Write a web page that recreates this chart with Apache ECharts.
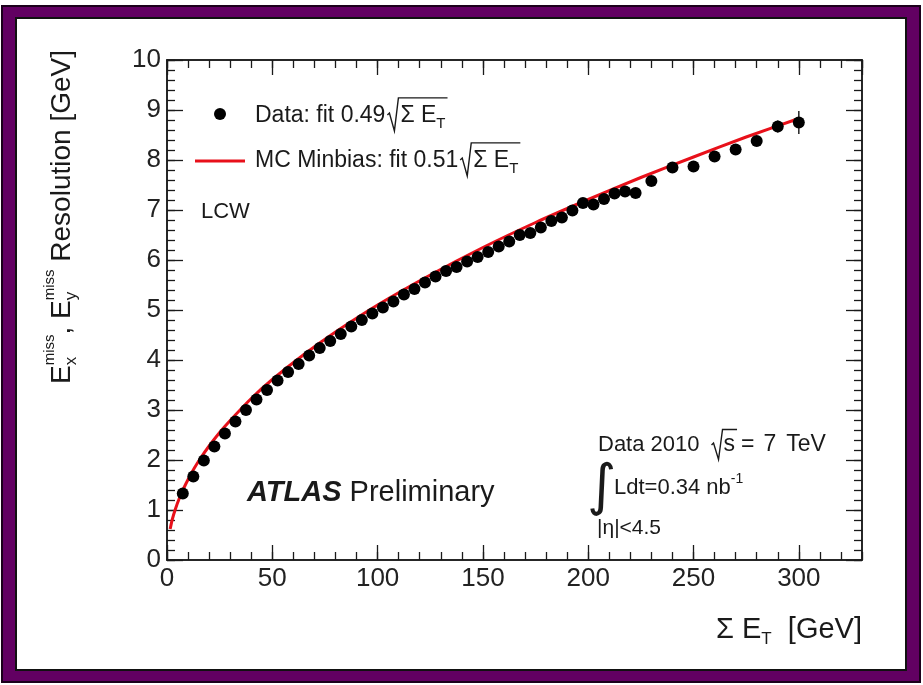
<!DOCTYPE html>
<html>
<head>
<meta charset="utf-8">
<title>MET resolution vs sum ET</title>
<script src="https://cdn.jsdelivr.net/npm/echarts@6/dist/echarts.min.js"></script>
<style>
  html, body { margin: 0; padding: 0; background: #fff; }
  #frame { position: absolute; left: 1px; top: 5px; width: 916px; height: 674px; background: #620062; border: 2px solid #1b001b; }
  #inner { position: absolute; left: 12px; top: 10px; right: 12px; bottom: 10px; background: #fff; border: 2px solid #111; }
  #chart { position: absolute; left: 0; top: 0; width: 923px; height: 685px; }
</style>
</head>
<body>
<div id="frame"><div id="inner"></div></div>
<div id="chart"></div>
<script>
var FONT = '"Liberation Sans", Arial, Helvetica, sans-serif';
var INK = '#1a1a1a';
var RED = '#e8101a';

// data: sum ET bin centres [GeV] and resolution [GeV]
var dataX = [7.5, 12.5, 17.5, 22.5, 27.5, 32.5, 37.5, 42.5, 47.5, 52.5, 57.5, 62.5, 67.5, 72.5, 77.5,
             82.5, 87.5, 92.5, 97.5, 102.5, 107.5, 112.5, 117.5, 122.5, 127.5, 132.5, 137.5, 142.5,
             147.5, 152.5, 157.5, 162.5, 167.5, 172.5, 177.5, 182.5, 187.5, 192.5, 197.5, 202.5,
             207.5, 212.5, 217.5, 222.5, 230, 240, 250, 260, 270, 280, 290, 300];
var dataY = [1.33, 1.67, 1.99, 2.27, 2.53, 2.77, 3.00, 3.21, 3.40, 3.59, 3.76, 3.92, 4.09, 4.24, 4.38,
             4.52, 4.67, 4.80, 4.93, 5.05, 5.17, 5.31, 5.42, 5.55, 5.67, 5.78, 5.86, 5.97,
             6.06, 6.16, 6.27, 6.37, 6.50, 6.54, 6.65, 6.78, 6.85, 6.99, 7.14, 7.11,
             7.22, 7.33, 7.37, 7.34, 7.58, 7.85, 7.87, 8.07, 8.21, 8.38, 8.67, 8.75];
var dataErr = [0.01, 0.01, 0.01, 0.01, 0.01, 0.01, 0.01, 0.01, 0.01, 0.01, 0.01, 0.01, 0.01, 0.01, 0.01,
               0.01, 0.01, 0.01, 0.01, 0.01, 0.01, 0.01, 0.01, 0.01, 0.01, 0.01, 0.01, 0.01,
               0.01, 0.01, 0.01, 0.02, 0.02, 0.02, 0.02, 0.02, 0.02, 0.02, 0.03, 0.03,
               0.03, 0.03, 0.04, 0.04, 0.04, 0.05, 0.06, 0.07, 0.08, 0.09, 0.12, 0.23];

// MC minbias fit curve
var mcX = [1.5, 2.5, 4, 6, 8, 10, 13, 16, 20, 25, 30, 40, 50, 65, 80, 100, 125, 150, 175, 200, 225, 250, 275, 300];
var mcY = [0.62, 0.81, 1.02, 1.25, 1.44, 1.61, 1.84, 2.04, 2.28, 2.55, 2.79, 3.23, 3.61, 4.11, 4.56,
           5.10, 5.70, 6.25, 6.75, 7.21, 7.65, 8.06, 8.46, 8.83];

// axis ranges and tick steps
var xRange = [0, 330], xMajor = 50, xMinor = 10;
var yRange = [0, 10], yMajor = 1, yMinor = 0.2;

var measureCtx = document.createElement('canvas').getContext('2d');
function textWidth(t, size, weight, style) {
    measureCtx.font = (style || 'normal') + ' ' + (weight || 'normal') + ' ' + size + 'px ' + FONT;
    return measureCtx.measureText(t).width;
}

// lays text pieces left to right, stacked pieces (sup over sub) share one x
function textRun(parts, x0, y0) {
    var els = [], x = x0, marks = {};
    parts.forEach(function (p) {
        if (p.mark) { marks[p.mark] = x; return; }
        if (p.gap) { x += p.gap; return; }
        var group = p.stack || [p], w = 0;
        group.forEach(function (q) {
            els.push({
                type: 'text', x: x, y: y0 + (q.dy || 0),
                style: {
                    text: q.t, fontSize: q.size, fontFamily: q.family || FONT,
                    fontWeight: q.weight || 'normal', fontStyle: q.style || 'normal',
                    fill: INK, textVerticalAlign: 'middle'
                }
            });
            w = Math.max(w, textWidth(q.t, q.size, q.weight, q.style));
        });
        x += w;
    });
    return { els: els, end: x, marks: marks };
}

// ROOT style sqrt sign, from x to x2
function radical(x, yc, x2, h) {
    return {
        type: 'polyline',
        shape: { points: [[x, yc - 1], [x + 2, yc - 3], [x + 7, yc + h * 0.45], [x + 11, yc - h * 0.55], [x2, yc - h * 0.55]] },
        style: { stroke: INK, lineWidth: 1.4, fill: null }
    };
}

function fitLabel(prefix, y) {
    var run = textRun([{ t: prefix, size: 23 }, { gap: 2 }, { mark: 'r' }, { gap: 13 },
        { t: 'Σ E', size: 23 }, { t: 'T', size: 15, dy: 8 }, { gap: 2 }], 255, y);
    run.els.push(radical(run.marks.r, y, run.end, 33));
    return run.els;
}

var graphics = [];

// legend
graphics.push({ type: 'circle', shape: { cx: 220, cy: 114, r: 6 }, style: { fill: '#000' } });
graphics = graphics.concat(fitLabel('Data: fit 0.49', 116));
graphics.push({ type: 'line', shape: { x1: 195, y1: 161, x2: 245, y2: 161 }, style: { stroke: RED, lineWidth: 3 } });
graphics = graphics.concat(fitLabel('MC Minbias: fit 0.51', 161));
graphics = graphics.concat(textRun([{ t: 'LCW', size: 22 }], 201, 212).els);

// y axis title, rotated, right aligned to the top
var yTitle = textRun([
    { t: 'E', size: 28 }, { stack: [{ t: 'miss', size: 15, dy: -12 }, { t: 'x', size: 17, dy: 9 }] },
    { t: ', ', size: 28 },
    { t: 'E', size: 28 }, { stack: [{ t: 'miss', size: 15, dy: -12 }, { t: 'y', size: 17, dy: 9 }] },
    { t: ' Resolution [GeV]', size: 28 }
], 0, 0);
graphics.push({ type: 'group', x: 62, y: 50 + yTitle.end, rotation: Math.PI / 2, children: yTitle.els });

// x axis title, right aligned
var xTitle = textRun([{ t: 'Σ E', size: 29 }, { t: 'T', size: 17, dy: 9 }, { t: '  [GeV]', size: 29 }], 0, 0);
graphics.push({ type: 'group', x: 862 - xTitle.end, y: 630, children: xTitle.els });

// ATLAS label
graphics = graphics.concat(textRun([{ t: 'ATLAS', size: 29, weight: 'bold', style: 'italic' },
    { t: ' Preliminary', size: 29 }], 247, 493).els);

// data info block
var info = textRun([{ t: 'Data 2010', size: 22 }, { gap: 12 }, { mark: 'r' }, { gap: 12 }, { t: 's', size: 23 },
    { gap: 2 }, { mark: 'e' }, { gap: 4 }, { t: '=', size: 23 }, { gap: 9 }, { t: '7', size: 23 },
    { gap: 10 }, { t: 'TeV', size: 23 }], 598, 445);
graphics = graphics.concat(info.els);
graphics.push(radical(info.marks.r, 446, info.marks.e, 30));
graphics = graphics.concat(textRun([{ t: '∫', size: 56, family: '"DejaVu Sans", sans-serif' }], 587, 489).els);
graphics = graphics.concat(textRun([{ t: 'Ldt=0.34 nb', size: 22 }, { t: '-1', size: 14, dy: -9 }], 614, 488).els);
graphics = graphics.concat(textRun([{ t: '|η|<4.5', size: 21 }], 597, 528).els);

var pts = dataX.map(function (x, i) { return [x, dataY[i]]; });
var errPts = dataX.map(function (x, i) { return [x, dataY[i], dataErr[i]]; });
var mcPts = mcX.map(function (x, i) { return [x, mcY[i]]; });

var tickStyle = { color: INK, width: 1.3 };

// major axes carry the labels, minor axes only short inside ticks
function axisDef(dim, pos, range, interval, len, labels) {
    return {
        type: 'value', position: pos, min: range[0], max: range[1], interval: interval,
        axisLine: { show: true, onZero: false, lineStyle: { color: INK, width: 1.5 } },
        axisTick: { show: true, inside: true, length: len, lineStyle: tickStyle },
        axisLabel: {
            show: labels, inside: false, fontSize: 26, fontFamily: FONT, color: '#222', margin: 6,
            showMaxLabel: dim === 'y'
        },
        splitLine: { show: false }
    };
}

var chart = echarts.init(document.getElementById('chart'));
chart.setOption({
    animation: false,
    backgroundColor: 'transparent',
    grid: { left: 167, right: 61, top: 60, bottom: 125 },
    xAxis: [
        axisDef('x', 'bottom', xRange, xMajor, 15, true),
        axisDef('x', 'bottom', xRange, xMinor, 8, false),
        axisDef('x', 'top', xRange, xMajor, 15, false),
        axisDef('x', 'top', xRange, xMinor, 8, false)
    ],
    yAxis: [
        axisDef('y', 'left', yRange, yMajor, 16, true),
        axisDef('y', 'left', yRange, yMinor, 8, false),
        axisDef('y', 'right', yRange, yMajor, 16, false),
        axisDef('y', 'right', yRange, yMinor, 8, false)
    ],
    graphic: graphics,
    series: [
        {
            name: 'MC Minbias', type: 'line', data: mcPts, smooth: 0.2, showSymbol: false,
            lineStyle: { color: RED, width: 3 }, z: 2
        },
        {
            name: 'Data errors', type: 'custom', data: errPts, encode: { x: 0, y: 1 }, z: 3,
            renderItem: function (params, api) {
                var hi = api.coord([api.value(0), api.value(1) + api.value(2)]);
                var lo = api.coord([api.value(0), api.value(1) - api.value(2)]);
                return { type: 'line', shape: { x1: hi[0], y1: hi[1], x2: lo[0], y2: lo[1] },
                         style: { stroke: '#222', lineWidth: 1.5 } };
            }
        },
        {
            name: 'Data', type: 'scatter', data: pts, symbolSize: 12,
            itemStyle: { color: '#000', opacity: 1 }, z: 4
        }
    ]
});
</script>
</body>
</html>
